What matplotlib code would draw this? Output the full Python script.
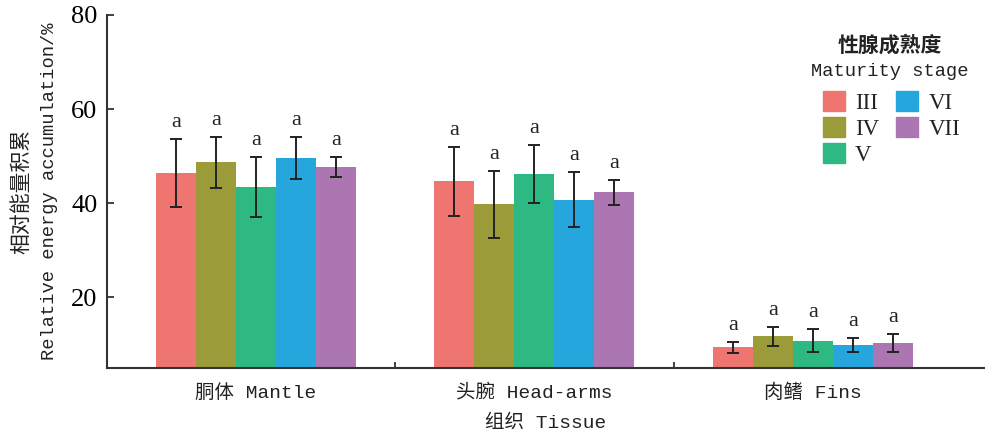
import numpy as np
import matplotlib.pyplot as plt
from matplotlib.patches import Patch

# data
tissues = ['胴体 Mantle', '头腕 Head-arms', '肉鳍 Fins']
stages = ['III', 'IV', 'V', 'VI', 'VII']
colors = ['#EE7570', '#9B9B3A', '#2EB982', '#25A6DD', '#AB76B1']

stage_III = [46.4, 44.7, 9.4]
stage_IV = [48.7, 39.8, 11.7]
stage_V = [43.4, 46.2, 10.8]
stage_VI = [49.6, 40.8, 9.8]
stage_VII = [47.7, 42.3, 10.4]

err_III = [7.2, 7.3, 1.2]
err_IV = [5.4, 7.1, 2.1]
err_V = [6.4, 6.2, 2.5]
err_VI = [4.5, 5.8, 1.5]
err_VII = [2.1, 2.6, 1.9]

letters = ['a', 'a', 'a']

means = [stage_III, stage_IV, stage_V, stage_VI, stage_VII]
errs = [err_III, err_IV, err_V, err_VI, err_VII]

mono = ['Liberation Mono', 'Noto Sans CJK SC']
cjk = ['Noto Sans CJK SC', 'DejaVu Sans']

fig = plt.figure(figsize=(9.85, 4.38), dpi=100)
ax = fig.add_axes([107/985, 1-368/438, 1-107/985, (368-15)/438])

x = np.arange(len(tissues))
w = 0.1436
for i in range(len(stages)):
	xs = x + (i-2)*w
	ax.bar(xs, means[i], w, color=colors[i], bottom=0, zorder=2)
	ax.errorbar(xs, means[i], yerr=errs[i], fmt='none', ecolor='#222222',
		elinewidth=1.4, capsize=4.5, capthick=1.4, zorder=3)
	for j in range(len(tissues)):
		ax.text(xs[j], means[i][j]+errs[i][j]+1.5, letters[j], ha='center', va='bottom',
			fontsize=16, family='Liberation Serif', color='#222222')

ax.set_ylim(5, 80)
ax.set_xlim(-0.535, 2.618)
ax.set_yticks([20, 40, 60, 80])
ax.set_yticklabels(['20', '40', '60', '80'], family='Liberation Serif', fontsize=19)
ax.tick_params(axis='y', direction='in', length=5, width=1.3, color='#333333', pad=7)
ax.set_xticks([0.5, 1.5])
ax.set_xticklabels([])
ax.tick_params(axis='x', direction='in', length=4, width=1.3, color='#333333')
for j, t in enumerate(tissues):
	ax.text(x[j], -0.045, t, transform=ax.get_xaxis_transform(), ha='center', va='top',
		fontsize=14, family=mono, color='#222222')
ax.text(0.5, -0.13, '组织 Tissue', transform=ax.transAxes, ha='center', va='top',
	fontsize=14, family=mono, color='#222222')

for s in ['top', 'right']:
	ax.spines[s].set_visible(False)
for s in ['left', 'bottom']:
	ax.spines[s].set_color('#333333')
	ax.spines[s].set_linewidth(1.5)

# two line y label
fig.text(21/985, 1-191/438, '相对能量积累', rotation=90, ha='center', va='center',
	fontsize=15, family=cjk, color='#222222')
fig.text(50/985, 1-191/438, 'Relative energy accumulation/%', rotation=90, ha='center', va='center',
	fontsize=13.5, family=mono, color='#222222')

# legend
fig.text(890/985, 1-45/438, '性腺成熟度', ha='center', va='center', fontsize=15,
	family=cjk, color='#222222', weight='bold')
fig.text(890/985, 1-72/438, 'Maturity stage', ha='center', va='center', fontsize=13.5,
	family=mono, color='#222222')
handles = [Patch(color=c) for c in colors]
leg = fig.legend(handles, stages, ncol=2, loc='upper left', bbox_to_anchor=(823/985, 1-91/438),
	frameon=False, borderpad=0, borderaxespad=0, handlelength=0.95, handleheight=0.95,
	handletextpad=0.45, columnspacing=0.75, labelspacing=0.14,
	prop={'family': 'Liberation Serif', 'size': 16.5})
for t in leg.get_texts():
	t.set_color('#222222')

fig.savefig('out.png', dpi=100)
